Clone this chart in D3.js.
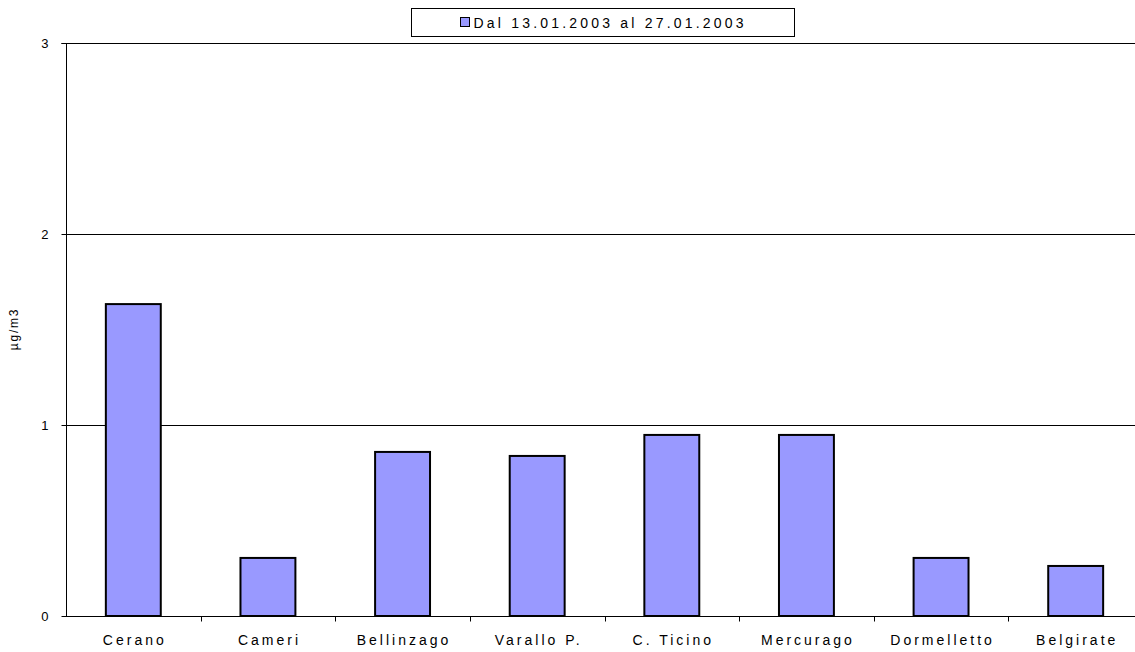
<!DOCTYPE html>
<html><head><meta charset="utf-8">
<script src="https://cdn.jsdelivr.net/npm/d3@7"></script>
<style>body{margin:0;background:#fff;} text{font-family:"Liberation Sans",Arial,sans-serif;}</style>
</head><body>
<svg id="c" width="1135" height="652"></svg>
<script>
const categories = ["Cerano","Cameri","Bellinzago","Varallo P.","C. Ticino","Mercurago","Dormelletto","Belgirate"];
const values = [1.633, 0.304, 0.859, 0.838, 0.948, 0.948, 0.304, 0.262];
const yTicks = [0, 1, 2, 3];
const seriesName = "Dal 13.01.2003 al 27.01.2003";
const yLabel = "µg/m3";

(function () {
const svg = d3.select("#c");
const pL = 66, pR = 1143, pT = 43, pB = 616;
const x = d3.scaleBand().domain(categories).range([pL, pR]).paddingInner(0.592).paddingOuter(0.296);
const xOuter = d3.scaleBand().domain(categories).range([pL, pR]);
const y = d3.scaleLinear().domain([0, 3]).range([pB, pT]);

// gridlines
svg.append("g").selectAll("line").data(yTicks.filter(d => d > 0)).join("line")
  .attr("x1", pL).attr("x2", 1135).attr("y1", d => y(d) + 0.5).attr("y2", d => y(d) + 0.5)
  .attr("stroke", "#000").attr("stroke-width", 1);

// bars
svg.append("g").selectAll("rect").data(values).join("rect")
  .attr("x", (d, i) => x(categories[i]))
  .attr("y", d => y(d))
  .attr("width", x.bandwidth())
  .attr("height", d => pB - y(d))
  .attr("fill", "#9999FF").attr("stroke", "#000").attr("stroke-width", 2);

// y axis
const ya = svg.append("g").attr("transform", `translate(${pL + 0.5},0)`)
  .call(d3.axisLeft(y).tickValues(yTicks).tickFormat(d3.format("d")).tickSize(5).tickPadding(13));
ya.select(".domain").attr("d", `M-5,${pT + 0.5}H0V${pB + 0.5}`).attr("stroke-width", 1);
ya.selectAll(".tick line").attr("stroke-width", 1);
ya.selectAll("text").attr("font-size", 13).attr("fill", "#000");

// x axis
const xa = svg.append("g").attr("transform", `translate(0,${pB + 0.5})`);
xa.append("line").attr("x1", pL).attr("x2", 1135).attr("stroke", "#000");
xa.selectAll("line.t").data(categories.slice(1)).join("line").attr("class", "t")
  .attr("x1", d => Math.round(xOuter(d)) + 0.5).attr("x2", d => Math.round(xOuter(d)) + 0.5)
  .attr("y1", 0).attr("y2", 5).attr("stroke", "#000");
xa.selectAll("text").data(categories).join("text")
  .attr("x", d => xOuter(d) + xOuter.bandwidth() / 2 + 1.5)
  .attr("y", 28.5).attr("text-anchor", "middle").attr("font-size", 14)
  .attr("letter-spacing", 3).text(d => d);

// y label
svg.append("text").attr("transform", "translate(18,329) rotate(-90)")
  .attr("text-anchor", "middle").attr("font-size", 12).attr("letter-spacing", 1.8).text(yLabel);

// legend
const lg = svg.append("g");
lg.append("rect").attr("x", 411.5).attr("y", 8.5).attr("width", 383).attr("height", 28)
  .attr("fill", "#fff").attr("stroke", "#000");
lg.append("rect").attr("x", 460.5).attr("y", 17.5).attr("width", 9).attr("height", 9)
  .attr("fill", "#9999FF").attr("stroke", "#000");
lg.append("text").attr("x", 473.5).attr("y", 28).attr("font-size", 14)
  .attr("letter-spacing", 3.2).text(seriesName);
})();
</script>
</body></html>
